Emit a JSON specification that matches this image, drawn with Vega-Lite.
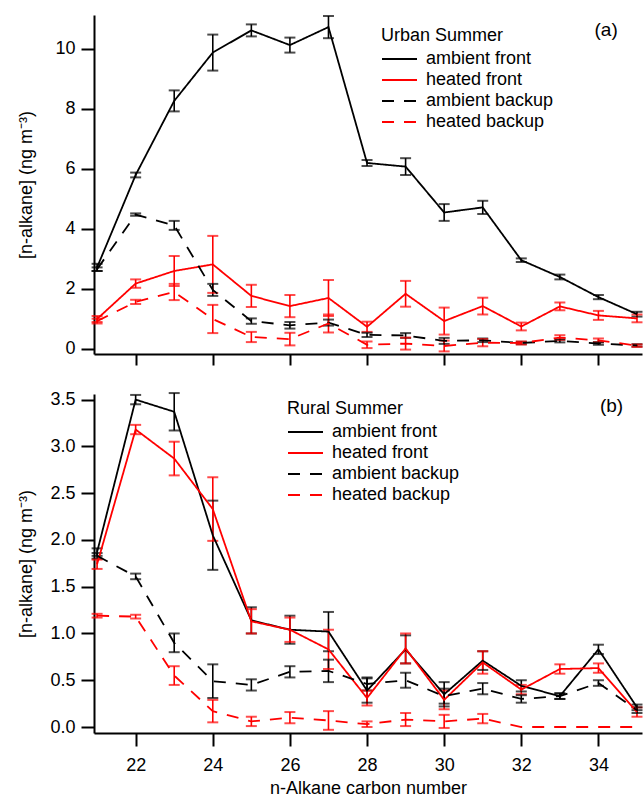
{
 "$schema": "https://vega.github.io/schema/vega-lite/v6.json",
 "autosize": {"type": "pad"},
 "padding": {"left": 17, "top": 14, "right": 0, "bottom": 5},
 "background": "white",
 "spacing": 40,
 "bounds": "flush",
 "config": {
  "font": "Liberation Sans",
  "view": {"stroke": null},
  "axis": {"grid": false, "domainColor": "black", "domainWidth": 2, "tickColor": "black", "tickWidth": 2, "tickSize": 13, "labelFontSize": 18, "labelColor": "black", "labelPadding": 6, "titleFontSize": 18, "titleFontWeight": "normal", "titleColor": "black"},
  "legend": {"labelFontSize": 18, "titleFontSize": 18, "titleFontWeight": "normal", "labelColor": "black", "titleColor": "black", "symbolStrokeWidth": 2, "padding": 0}
 },
 "datasets": {
  "urban": [
   {"s": "ambient front", "n": 21, "v": 2.72, "lo": 2.60, "hi": 2.84},
   {"s": "ambient front", "n": 22, "v": 5.80, "lo": 5.72, "hi": 5.88},
   {"s": "ambient front", "n": 23, "v": 8.27, "lo": 7.92, "hi": 8.62},
   {"s": "ambient front", "n": 24, "v": 9.88, "lo": 9.28, "hi": 10.48},
   {"s": "ambient front", "n": 25, "v": 10.62, "lo": 10.42, "hi": 10.82},
   {"s": "ambient front", "n": 26, "v": 10.13, "lo": 9.88, "hi": 10.38},
   {"s": "ambient front", "n": 27, "v": 10.73, "lo": 10.36, "hi": 11.10},
   {"s": "ambient front", "n": 28, "v": 6.20, "lo": 6.10, "hi": 6.30},
   {"s": "ambient front", "n": 29, "v": 6.08, "lo": 5.80, "hi": 6.36},
   {"s": "ambient front", "n": 30, "v": 4.55, "lo": 4.27, "hi": 4.83},
   {"s": "ambient front", "n": 31, "v": 4.72, "lo": 4.50, "hi": 4.94},
   {"s": "ambient front", "n": 32, "v": 2.96, "lo": 2.90, "hi": 3.02},
   {"s": "ambient front", "n": 33, "v": 2.40, "lo": 2.32, "hi": 2.48},
   {"s": "ambient front", "n": 34, "v": 1.73, "lo": 1.66, "hi": 1.80},
   {"s": "ambient front", "n": 35, "v": 1.16, "lo": 1.08, "hi": 1.24},
   {"s": "heated front", "n": 21, "v": 1.00, "lo": 0.90, "hi": 1.10},
   {"s": "heated front", "n": 22, "v": 2.18, "lo": 2.04, "hi": 2.32},
   {"s": "heated front", "n": 23, "v": 2.60, "lo": 2.10, "hi": 3.10},
   {"s": "heated front", "n": 24, "v": 2.82, "lo": 1.87, "hi": 3.77},
   {"s": "heated front", "n": 25, "v": 1.77, "lo": 1.40, "hi": 2.14},
   {"s": "heated front", "n": 26, "v": 1.43, "lo": 1.06, "hi": 1.80},
   {"s": "heated front", "n": 27, "v": 1.70, "lo": 1.10, "hi": 2.30},
   {"s": "heated front", "n": 28, "v": 0.74, "lo": 0.57, "hi": 0.91},
   {"s": "heated front", "n": 29, "v": 1.84, "lo": 1.41, "hi": 2.27},
   {"s": "heated front", "n": 30, "v": 0.93, "lo": 0.48, "hi": 1.38},
   {"s": "heated front", "n": 31, "v": 1.43, "lo": 1.15, "hi": 1.71},
   {"s": "heated front", "n": 32, "v": 0.75, "lo": 0.62, "hi": 0.88},
   {"s": "heated front", "n": 33, "v": 1.42, "lo": 1.29, "hi": 1.55},
   {"s": "heated front", "n": 34, "v": 1.12, "lo": 0.97, "hi": 1.27},
   {"s": "heated front", "n": 35, "v": 1.02, "lo": 0.89, "hi": 1.15},
   {"s": "ambient backup", "n": 21, "v": 2.66, "lo": 2.60, "hi": 2.72},
   {"s": "ambient backup", "n": 22, "v": 4.48, "lo": 4.44, "hi": 4.52},
   {"s": "ambient backup", "n": 23, "v": 4.12, "lo": 3.97, "hi": 4.27},
   {"s": "ambient backup", "n": 24, "v": 1.97, "lo": 1.77, "hi": 2.17},
   {"s": "ambient backup", "n": 25, "v": 0.93, "lo": 0.84, "hi": 1.02},
   {"s": "ambient backup", "n": 26, "v": 0.79, "lo": 0.68, "hi": 0.90},
   {"s": "ambient backup", "n": 27, "v": 0.88, "lo": 0.78, "hi": 0.98},
   {"s": "ambient backup", "n": 28, "v": 0.47, "lo": 0.40, "hi": 0.54},
   {"s": "ambient backup", "n": 29, "v": 0.45, "lo": 0.37, "hi": 0.53},
   {"s": "ambient backup", "n": 30, "v": 0.27, "lo": 0.17, "hi": 0.37},
   {"s": "ambient backup", "n": 31, "v": 0.29, "lo": 0.23, "hi": 0.35},
   {"s": "ambient backup", "n": 32, "v": 0.20, "lo": 0.16, "hi": 0.24},
   {"s": "ambient backup", "n": 33, "v": 0.27, "lo": 0.22, "hi": 0.32},
   {"s": "ambient backup", "n": 34, "v": 0.18, "lo": 0.14, "hi": 0.22},
   {"s": "ambient backup", "n": 35, "v": 0.12, "lo": 0.08, "hi": 0.16},
   {"s": "heated backup", "n": 21, "v": 0.93, "lo": 0.85, "hi": 1.01},
   {"s": "heated backup", "n": 22, "v": 1.57, "lo": 1.50, "hi": 1.64},
   {"s": "heated backup", "n": 23, "v": 1.90, "lo": 1.63, "hi": 2.17},
   {"s": "heated backup", "n": 24, "v": 1.00, "lo": 0.53, "hi": 1.47},
   {"s": "heated backup", "n": 25, "v": 0.40, "lo": 0.23, "hi": 0.57},
   {"s": "heated backup", "n": 26, "v": 0.33, "lo": 0.12, "hi": 0.54},
   {"s": "heated backup", "n": 27, "v": 0.85, "lo": 0.55, "hi": 1.15},
   {"s": "heated backup", "n": 28, "v": 0.14, "lo": 0.03, "hi": 0.25},
   {"s": "heated backup", "n": 29, "v": 0.18, "lo": -0.02, "hi": 0.38},
   {"s": "heated backup", "n": 30, "v": 0.10, "lo": -0.08, "hi": 0.28},
   {"s": "heated backup", "n": 31, "v": 0.21, "lo": 0.09, "hi": 0.33},
   {"s": "heated backup", "n": 32, "v": 0.20, "lo": 0.15, "hi": 0.25},
   {"s": "heated backup", "n": 33, "v": 0.38, "lo": 0.30, "hi": 0.46},
   {"s": "heated backup", "n": 34, "v": 0.29, "lo": 0.23, "hi": 0.35},
   {"s": "heated backup", "n": 35, "v": 0.11, "lo": 0.07, "hi": 0.15}
  ],
  "rural": [
   {"s": "ambient front", "n": 21, "v": 1.87, "lo": 1.83, "hi": 1.91},
   {"s": "ambient front", "n": 22, "v": 3.50, "lo": 3.45, "hi": 3.55},
   {"s": "ambient front", "n": 23, "v": 3.37, "lo": 3.17, "hi": 3.57},
   {"s": "ambient front", "n": 24, "v": 2.05, "lo": 1.68, "hi": 2.42},
   {"s": "ambient front", "n": 25, "v": 1.14, "lo": 1.00, "hi": 1.28},
   {"s": "ambient front", "n": 26, "v": 1.04, "lo": 0.89, "hi": 1.19},
   {"s": "ambient front", "n": 27, "v": 1.02, "lo": 0.81, "hi": 1.23},
   {"s": "ambient front", "n": 28, "v": 0.39, "lo": 0.26, "hi": 0.52},
   {"s": "ambient front", "n": 29, "v": 0.83, "lo": 0.68, "hi": 0.98},
   {"s": "ambient front", "n": 30, "v": 0.35, "lo": 0.22, "hi": 0.48},
   {"s": "ambient front", "n": 31, "v": 0.71, "lo": 0.61, "hi": 0.81},
   {"s": "ambient front", "n": 32, "v": 0.44, "lo": 0.38, "hi": 0.50},
   {"s": "ambient front", "n": 33, "v": 0.33, "lo": 0.30, "hi": 0.36},
   {"s": "ambient front", "n": 34, "v": 0.83, "lo": 0.78, "hi": 0.88},
   {"s": "ambient front", "n": 35, "v": 0.21, "lo": 0.18, "hi": 0.24},
   {"s": "heated front", "n": 21, "v": 1.74, "lo": 1.69, "hi": 1.79},
   {"s": "heated front", "n": 22, "v": 3.18, "lo": 3.13, "hi": 3.23},
   {"s": "heated front", "n": 23, "v": 2.87, "lo": 2.69, "hi": 3.05},
   {"s": "heated front", "n": 24, "v": 2.33, "lo": 1.99, "hi": 2.67},
   {"s": "heated front", "n": 25, "v": 1.13, "lo": 1.00, "hi": 1.26},
   {"s": "heated front", "n": 26, "v": 1.04, "lo": 0.91, "hi": 1.17},
   {"s": "heated front", "n": 27, "v": 0.83, "lo": 0.62, "hi": 1.04},
   {"s": "heated front", "n": 28, "v": 0.31, "lo": 0.23, "hi": 0.39},
   {"s": "heated front", "n": 29, "v": 0.84, "lo": 0.68, "hi": 1.00},
   {"s": "heated front", "n": 30, "v": 0.29, "lo": 0.19, "hi": 0.39},
   {"s": "heated front", "n": 31, "v": 0.69, "lo": 0.57, "hi": 0.81},
   {"s": "heated front", "n": 32, "v": 0.40, "lo": 0.35, "hi": 0.45},
   {"s": "heated front", "n": 33, "v": 0.62, "lo": 0.57, "hi": 0.67},
   {"s": "heated front", "n": 34, "v": 0.63, "lo": 0.58, "hi": 0.68},
   {"s": "heated front", "n": 35, "v": 0.16, "lo": 0.11, "hi": 0.21},
   {"s": "ambient backup", "n": 21, "v": 1.83, "lo": 1.80, "hi": 1.86},
   {"s": "ambient backup", "n": 22, "v": 1.61, "lo": 1.58, "hi": 1.64},
   {"s": "ambient backup", "n": 23, "v": 0.90, "lo": 0.80, "hi": 1.00},
   {"s": "ambient backup", "n": 24, "v": 0.49, "lo": 0.31, "hi": 0.67},
   {"s": "ambient backup", "n": 25, "v": 0.45, "lo": 0.39, "hi": 0.51},
   {"s": "ambient backup", "n": 26, "v": 0.59, "lo": 0.53, "hi": 0.65},
   {"s": "ambient backup", "n": 27, "v": 0.60, "lo": 0.48, "hi": 0.72},
   {"s": "ambient backup", "n": 28, "v": 0.46, "lo": 0.39, "hi": 0.53},
   {"s": "ambient backup", "n": 29, "v": 0.50, "lo": 0.42, "hi": 0.58},
   {"s": "ambient backup", "n": 30, "v": 0.33, "lo": 0.25, "hi": 0.41},
   {"s": "ambient backup", "n": 31, "v": 0.41, "lo": 0.35, "hi": 0.47},
   {"s": "ambient backup", "n": 32, "v": 0.30, "lo": 0.26, "hi": 0.34},
   {"s": "ambient backup", "n": 33, "v": 0.33, "lo": 0.30, "hi": 0.36},
   {"s": "ambient backup", "n": 34, "v": 0.47, "lo": 0.44, "hi": 0.50},
   {"s": "ambient backup", "n": 35, "v": 0.18, "lo": 0.15, "hi": 0.21},
   {"s": "heated backup", "n": 21, "v": 1.19, "lo": 1.17, "hi": 1.21},
   {"s": "heated backup", "n": 22, "v": 1.18, "lo": 1.16, "hi": 1.20},
   {"s": "heated backup", "n": 23, "v": 0.55, "lo": 0.45, "hi": 0.65},
   {"s": "heated backup", "n": 24, "v": 0.17, "lo": 0.05, "hi": 0.29},
   {"s": "heated backup", "n": 25, "v": 0.06, "lo": 0.01, "hi": 0.11},
   {"s": "heated backup", "n": 26, "v": 0.10, "lo": 0.04, "hi": 0.16},
   {"s": "heated backup", "n": 27, "v": 0.07, "lo": -0.03, "hi": 0.17},
   {"s": "heated backup", "n": 28, "v": 0.03, "lo": 0.00, "hi": 0.06},
   {"s": "heated backup", "n": 29, "v": 0.08, "lo": 0.01, "hi": 0.15},
   {"s": "heated backup", "n": 30, "v": 0.06, "lo": -0.01, "hi": 0.13},
   {"s": "heated backup", "n": 31, "v": 0.09, "lo": 0.04, "hi": 0.14},
   {"s": "heated backup", "n": 32, "v": 0.00, "lo": null, "hi": null},
   {"s": "heated backup", "n": 33, "v": 0.00, "lo": null, "hi": null},
   {"s": "heated backup", "n": 34, "v": 0.00, "lo": null, "hi": null},
   {"s": "heated backup", "n": 35, "v": 0.00, "lo": null, "hi": null}
  ]
 },
 "vconcat": [
  {
   "data": {"name": "urban"},
   "width": 548,
   "height": 339,
   "resolve": {"legend": {"color": "independent", "strokeDash": "independent"}},
   "layer": [
    {
     "mark": {"type": "rule", "strokeWidth": 1.6},
     "encoding": {
      "x": {"field": "n", "type": "quantitative", "scale": {"domain": [20.92, 35.13], "nice": false, "zero": false}, "axis": {"values": [22, 24, 26, 28, 30, 32, 34], "labels": false, "title": null, "tickSize": 11}},
      "y": {"field": "lo", "type": "quantitative", "scale": {"domain": [-0.167, 11.133], "nice": false, "zero": false}, "axis": {"values": [0, 2, 4, 6, 8, 10], "title": "[n-alkane] (ng m⁻³)", "titleX": -59, "titleY": 169.5, "titleAngle": 270, "titleAlign": "center", "titleBaseline": "bottom"}},
      "y2": {"field": "hi"},
      "color": {"field": "s", "type": "nominal", "scale": {"domain": ["ambient front", "heated front", "ambient backup", "heated backup"], "range": ["black", "red", "black", "red"]}, "legend": null}
     }
    },
    {
     "mark": {"type": "tick", "orient": "horizontal", "size": 11, "thickness": 2},
     "encoding": {
      "x": {"field": "n", "type": "quantitative"},
      "y": {"field": "lo", "type": "quantitative"},
      "color": {"field": "s", "type": "nominal", "legend": null}
     }
    },
    {
     "mark": {"type": "tick", "orient": "horizontal", "size": 11, "thickness": 2},
     "encoding": {
      "x": {"field": "n", "type": "quantitative"},
      "y": {"field": "hi", "type": "quantitative"},
      "color": {"field": "s", "type": "nominal", "legend": null}
     }
    },
    {
     "mark": {"type": "line", "strokeWidth": 1.8},
     "encoding": {
      "x": {"field": "n", "type": "quantitative"},
      "y": {"field": "v", "type": "quantitative"},
      "color": {"field": "s", "type": "nominal", "legend": {"title": "Urban Summer", "orient": "none", "legendX": 287, "legendY": 12, "symbolType": "M-1,0H2.5", "symbolSize": 400, "labelOffset": 23, "rowPadding": 1, "titlePadding": 3}},
      "strokeDash": {"field": "s", "type": "nominal", "scale": {"domain": ["ambient front", "heated front", "ambient backup", "heated backup"], "range": [[1, 0], [1, 0], [12, 10], [12, 10]]}, "legend": {"title": "Urban Summer", "orient": "none", "legendX": 287, "legendY": 12, "symbolType": "M-1,0H2.5", "symbolSize": 400, "labelOffset": 23, "rowPadding": 1, "titlePadding": 3}}
     }
    },
    {
     "data": {"values": [{}]},
     "mark": {"type": "text", "fontSize": 19, "align": "center", "baseline": "middle", "color": "black"},
     "encoding": {
      "x": {"datum": 34.2, "type": "quantitative"},
      "y": {"datum": 10.63, "type": "quantitative"},
      "text": {"value": "(a)"}
     }
    }
   ]
  },
  {
   "data": {"name": "rural"},
   "width": 548,
   "height": 339,
   "resolve": {"legend": {"color": "independent", "strokeDash": "independent"}},
   "layer": [
    {
     "mark": {"type": "rule", "strokeWidth": 1.6},
     "encoding": {
      "x": {"field": "n", "type": "quantitative", "scale": {"domain": [20.92, 35.13], "nice": false, "zero": false}, "axis": {"values": [22, 24, 26, 28, 30, 32, 34], "format": "d", "labelPadding": 10, "title": "n-Alkane carbon number", "titlePadding": 5}},
      "y": {"field": "lo", "type": "quantitative", "scale": {"domain": [-0.064, 3.56], "nice": false, "zero": false}, "axis": {"values": [0, 0.5, 1, 1.5, 2, 2.5, 3, 3.5], "format": ".1f", "title": "[n-alkane] (ng m⁻³)", "titleX": -59, "titleY": 169.5, "titleAngle": 270, "titleAlign": "center", "titleBaseline": "bottom"}},
      "y2": {"field": "hi"},
      "color": {"field": "s", "type": "nominal", "scale": {"domain": ["ambient front", "heated front", "ambient backup", "heated backup"], "range": ["black", "red", "black", "red"]}, "legend": null}
     }
    },
    {
     "mark": {"type": "tick", "orient": "horizontal", "size": 11, "thickness": 2},
     "encoding": {
      "x": {"field": "n", "type": "quantitative"},
      "y": {"field": "lo", "type": "quantitative"},
      "color": {"field": "s", "type": "nominal", "legend": null}
     }
    },
    {
     "mark": {"type": "tick", "orient": "horizontal", "size": 11, "thickness": 2},
     "encoding": {
      "x": {"field": "n", "type": "quantitative"},
      "y": {"field": "hi", "type": "quantitative"},
      "color": {"field": "s", "type": "nominal", "legend": null}
     }
    },
    {
     "mark": {"type": "line", "strokeWidth": 1.8},
     "encoding": {
      "x": {"field": "n", "type": "quantitative"},
      "y": {"field": "v", "type": "quantitative"},
      "color": {"field": "s", "type": "nominal", "legend": {"title": "Rural Summer", "orient": "none", "legendX": 193, "legendY": 6, "symbolType": "M-1,0H2.5", "symbolSize": 400, "labelOffset": 23, "rowPadding": 1, "titlePadding": 3}},
      "strokeDash": {"field": "s", "type": "nominal", "scale": {"domain": ["ambient front", "heated front", "ambient backup", "heated backup"], "range": [[1, 0], [1, 0], [12, 10], [12, 10]]}, "legend": {"title": "Rural Summer", "orient": "none", "legendX": 193, "legendY": 6, "symbolType": "M-1,0H2.5", "symbolSize": 400, "labelOffset": 23, "rowPadding": 1, "titlePadding": 3}}
     }
    },
    {
     "data": {"values": [{}]},
     "mark": {"type": "text", "fontSize": 19, "align": "center", "baseline": "middle", "color": "black"},
     "encoding": {
      "x": {"datum": 34.34, "type": "quantitative"},
      "y": {"datum": 3.43, "type": "quantitative"},
      "text": {"value": "(b)"}
     }
    }
   ]
  }
 ]
}
